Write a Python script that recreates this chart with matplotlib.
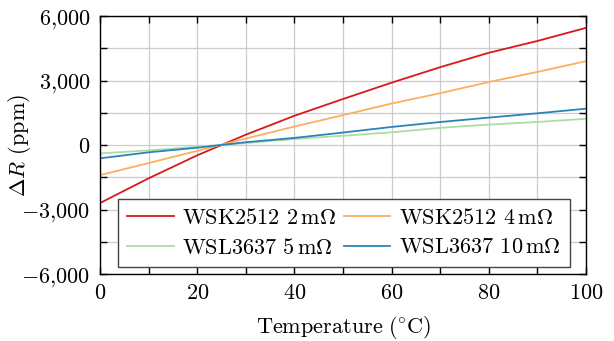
import numpy as np
import matplotlib
matplotlib.use("Agg")
from matplotlib import pyplot as plt
from matplotlib.ticker import MultipleLocator, FuncFormatter

plt.rcParams['font.family'] = 'cmr10'
plt.rcParams['mathtext.fontset'] = 'cm'
plt.rcParams['axes.formatter.use_mathtext'] = True

# temperature (°C) and resistance change (ppm)
temp = [0, 10, 20, 30, 40, 50, 60, 70, 80, 90, 100]
wsk_2m = [-2700, -1550, -480, 480, 1360, 2140, 2900, 3620, 4290, 4840, 5450]
wsk_4m = [-1400, -840, -270, 300, 860, 1390, 1930, 2410, 2930, 3400, 3900]
wsl_5m = [-390, -250, -80, 90, 280, 430, 590, 800, 950, 1070, 1220]
wsl_10m = [-620, -340, -125, 130, 330, 580, 840, 1070, 1275, 1475, 1690]

labels = [r"WSK2512 $2\,\mathrm{m}\Omega$", r"WSK2512 $4\,\mathrm{m}\Omega$",
          r"WSL3637 $5\,\mathrm{m}\Omega$", r"WSL3637 $10\,\mathrm{m}\Omega$"]
colors = ["#d7191c", "#fdae61", "#abdda4", "#2b83ba"]

fig = plt.figure(figsize=(6.14, 3.41), dpi=100)
ax = fig.add_axes([0.1629, 0.1965, 0.7915, 0.7565])

lines = []
for y, lab, c in zip([wsk_2m, wsk_4m, wsl_5m, wsl_10m], labels, colors):
    lines += ax.plot(temp, y, color=c, lw=1.3, label=lab)

ax.set_xlim(0, 100)
ax.set_ylim(-6000, 6000)
ax.xaxis.set_major_locator(MultipleLocator(20))
ax.xaxis.set_minor_locator(MultipleLocator(10))
ax.yaxis.set_major_locator(MultipleLocator(3000))
ax.yaxis.set_minor_locator(MultipleLocator(1500))

def fmt(v, pos):
    s = f"{abs(v):,.0f}".replace(",", "{,}")
    return f"${'-' if v < 0 else ''}{s}$"

ax.yaxis.set_major_formatter(FuncFormatter(fmt))
ax.xaxis.set_major_formatter(FuncFormatter(lambda v, p: f"${v:.0f}$"))

ax.grid(which="both", color="#cccccc", lw=0.9)
ax.set_axisbelow(True)
ax.tick_params(which="both", direction="in", top=True, right=True,
               length=5, width=1, labelsize=16, pad=7)
for s in ax.spines.values():
    s.set_linewidth(1)

ax.set_xlabel(r"$\mathrm{Temperature\ (\!^\circ\!C)}$", fontsize=16)
ax.set_ylabel(r"$\Delta R$ (ppm)", fontsize=16)
ax.xaxis.set_label_coords(0.5, -0.155)
ax.yaxis.set_label_coords(-0.138, 0.5)

# row-wise legend order
order = [0, 2, 1, 3]
leg = ax.legend([lines[i] for i in order], [labels[i] for i in order],
                ncol=2, loc="lower left", bbox_to_anchor=(0.037, 0.028, 0.93, 0.27),
                mode="expand", borderaxespad=0, fontsize=16, handlelength=2.1,
                handletextpad=0.4, labelspacing=0.45, columnspacing=0.6,
                borderpad=0.4, fancybox=False, framealpha=1, edgecolor="#444444")
leg.get_frame().set_linewidth(1)

fig.savefig("out.png", dpi=100)
